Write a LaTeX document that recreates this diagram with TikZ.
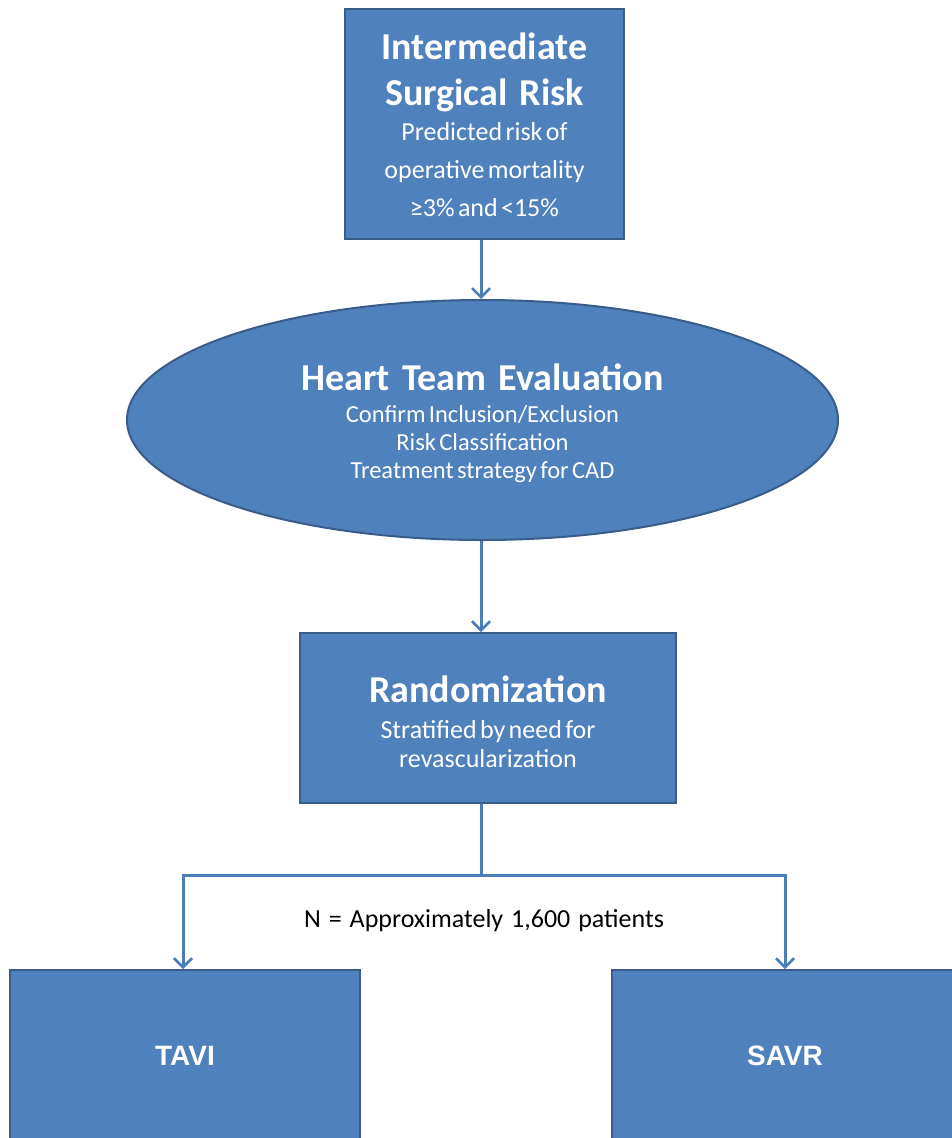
\documentclass[tikz,border=0pt]{standalone}
\usepackage{fontspec}
\setmainfont[WordSpace=1.35]{Carlito}
\newfontfamily\arialfont{Liberation Sans}
\usetikzlibrary{shapes.geometric,arrows.meta}
\definecolor{boxfill}{HTML}{4F81BD}
\definecolor{boxline}{HTML}{385D8A}
\definecolor{arrowcol}{HTML}{4A7EBB}
\newcommand{\titlefont}{\fontsize{38}{46}\selectfont\bfseries\spaceskip=0.32em\relax}
\tikzset{
  box/.style={draw=boxline, line width=2pt, fill=boxfill, text=white, align=center, inner sep=0pt, rectangle},
  oval/.style={draw=boxline, line width=2pt, fill=boxfill, text=white, align=center, inner sep=0pt, ellipse},
  conn/.style={draw=arrowcol, line width=3pt},
  arr/.style={conn, -{Straight Barb[length=9pt,width=18pt,line width=2.5pt]}},
}
\begin{document}
\begin{tikzpicture}[x=1pt,y=-1pt]
\useasboundingbox (0,0) rectangle (952,1138);
\clip (0,0) rectangle (952,1138);
\fill[white] (0,0) rectangle (952,1138);
\node[box, minimum width=279pt, minimum height=230pt, text width=275pt] (risk) at (484.5,124)
  {{\titlefont Intermediate\\Surgical Risk\par}\vspace{-3pt}
   {\fontsize{26}{38}\selectfont Predicted risk of\\operative mortality\\≥3\% and <15\%\par}\vspace{-2pt}};
\node[oval, minimum width=711pt, minimum height=240pt, text width=440pt] (team) at (482.5,420)
  {{\titlefont Heart Team Evaluation\par}\vspace{4pt}
   {\fontsize{24.5}{28}\selectfont Confirm Inclusion/Exclusion\\Risk Classification\\Treatment strategy for CAD\par}\vspace{-6pt}};
\node[box, minimum width=376pt, minimum height=170pt, text width=370pt] (rand) at (488,718)
  {{\titlefont Randomization\par}\vspace{7pt}
   {\fontsize{26}{29}\selectfont Stratified by need for\\revascularization\par}\vspace{-8pt}};
\node[box, minimum width=350pt, minimum height=172pt] (tavi) at (185,1056)
  {\arialfont\fontsize{28}{30}\selectfont\bfseries TAVI};
\node[box, minimum width=346pt, minimum height=172pt] (savr) at (785,1056)
  {\arialfont\fontsize{28}{30}\selectfont\bfseries SAVR};
\node[text=black, inner sep=0pt] (n) at (484,921) {\fontsize{26}{30}\selectfont N = Approximately 1,600 patients};
\draw[arr] (risk.south -| 481,0) -- (team.north -| 481,0);
\draw[arr] (team.south -| 481,0) -- (rand.north -| 481,0);
\draw[conn] (rand.south -| 481,0) -- (481,875) coordinate (j);
\draw[arr] (j) -| (tavi.north -| 183,0);
\draw[arr] (j) -| (savr.north);
\end{tikzpicture}
\end{document}
